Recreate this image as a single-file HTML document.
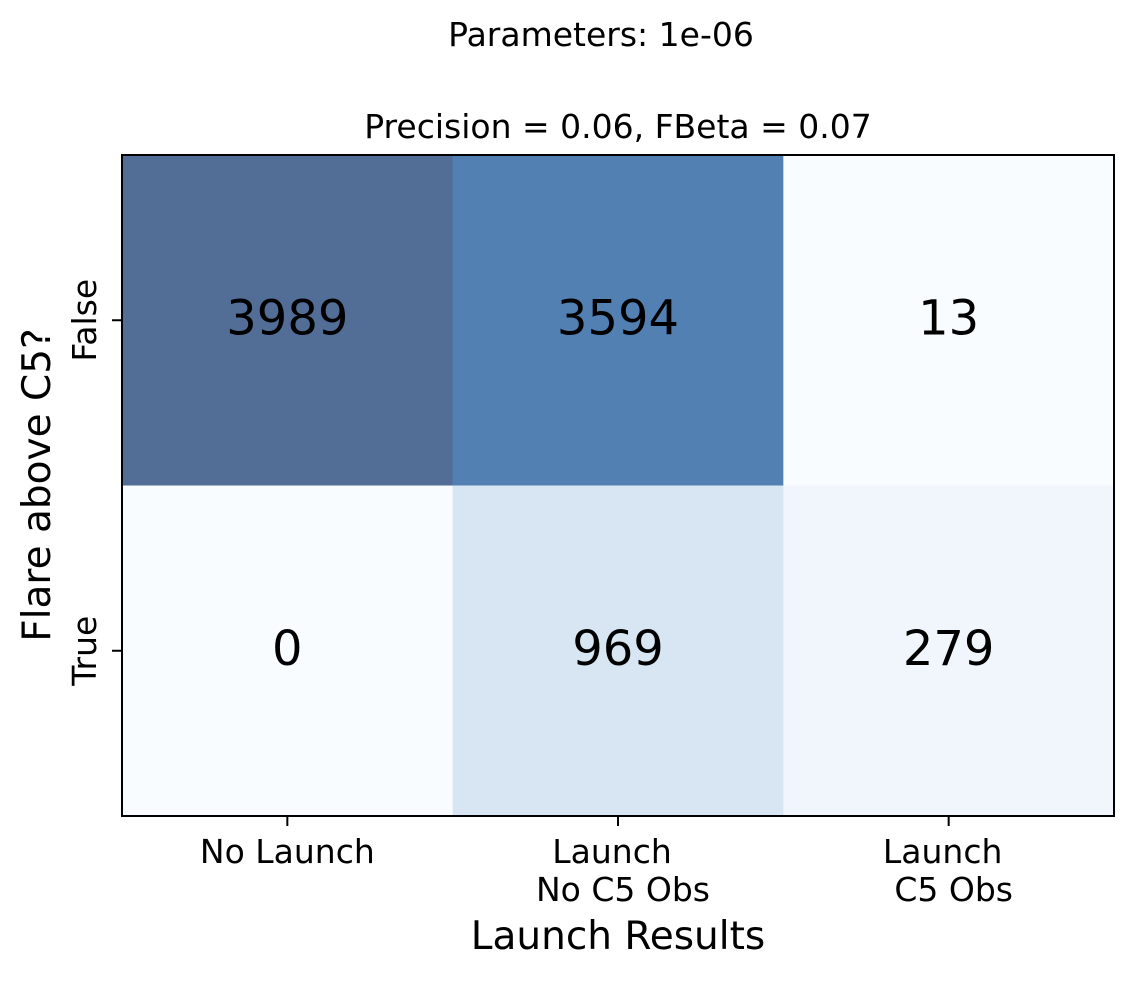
<!DOCTYPE html>
<html><head><meta charset="utf-8"><style>
body{margin:0;background:#fff;}
svg text{font-family:"DejaVu Sans","Liberation Sans",sans-serif;}
</style></head><body>
<svg id="chart" width="1133" height="976" viewBox="0 0 1133 976">
<text x="601" y="46" font-size="33" text-anchor="middle">Parameters: 1e-06</text>
<text x="618" y="138" font-size="33" text-anchor="middle">Precision = 0.06, FBeta = 0.07</text>
<g id="cells"></g>
<rect x="122" y="155" width="992" height="661" fill="none" stroke="#000" stroke-width="2"/>
<g id="ticks"></g>
<text x="618" y="949" font-size="39" text-anchor="middle">Launch Results</text>
<text transform="translate(50,485) rotate(-90)" font-size="39" text-anchor="middle">Flare above C5?</text>
</svg>
<script>
const xCategories=[["No Launch"],["Launch","No C5 Obs"],["Launch","C5 Obs"]];
const yCategories=["False","True"];
const valuesFalse=[3989,3594,13];
const valuesTrue=[0,969,279];
const rows=[valuesFalse,valuesTrue];
const L=122,T=155,W=992,H=661;
const cw=W/xCategories.length, ch=H/yCategories.length;
const xPos=i=>L+cw*(i+0.5), yPos=j=>T+ch*(j+0.5);
const stops=["#f7fbff","#deebf7","#c6dbef","#9ecae1","#6baed6","#4292c6","#2171b5","#08519c","#08306b"];
function hex(h){return [1,3,5].map(k=>parseInt(h.substr(k,2),16));}
function blues(t){t=Math.max(0,Math.min(1,t));const s=t*8,i=Math.min(7,Math.floor(s)),f=s-i;const a=hex(stops[i]),b=hex(stops[i+1]);
 return a.map((v,k)=>Math.round((v+(b[k]-v)*f)*0.7+255*0.3));}
const allV=rows.flat(),mn=Math.min(...allV),mx=Math.max(...allV);
const ns="http://www.w3.org/2000/svg";
const cells=document.getElementById('cells'),ticks=document.getElementById('ticks');
rows.forEach((r,j)=>r.forEach((v,i)=>{
 const c=blues((v-mn)/(mx-mn));
 const rect=document.createElementNS(ns,'rect');
 
 
 rect.setAttribute('x',L+cw*i);rect.setAttribute('y',T+ch*j);rect.setAttribute('width',cw+0.5);rect.setAttribute('height',ch+0.5);
 rect.setAttribute('fill','rgb('+c.join(',')+')');cells.appendChild(rect);
 const t=document.createElementNS(ns,'text');
 
 
 t.setAttribute('x',xPos(i));t.setAttribute('y',yPos(j)+14);t.setAttribute('font-size','48');t.setAttribute('text-anchor','middle');
 t.textContent=v;cells.appendChild(t);
}));
xCategories.forEach((lines,i)=>{
 const l=document.createElementNS(ns,'line');
 
 
 l.setAttribute('x1',xPos(i));l.setAttribute('x2',xPos(i));l.setAttribute('y1',T+H);l.setAttribute('y2',T+H+10);l.setAttribute('stroke','#000');l.setAttribute('stroke-width','2');ticks.appendChild(l);
 lines.forEach((s,k)=>{const t=document.createElementNS(ns,'text');
 
 
 const dx=lines.length>1?(k===0?-6:5):0;
 t.setAttribute('x',xPos(i)+dx);t.setAttribute('y',T+H+47+k*38);t.setAttribute('font-size','33');t.setAttribute('text-anchor','middle');t.textContent=s;ticks.appendChild(t);});
});
yCategories.forEach((s,j)=>{
 const l=document.createElementNS(ns,'line');
 
 
 l.setAttribute('x1',L-10);l.setAttribute('x2',L);l.setAttribute('y1',yPos(j));l.setAttribute('y2',yPos(j));l.setAttribute('stroke','#000');l.setAttribute('stroke-width','2');ticks.appendChild(l);
 const t=document.createElementNS(ns,'text');
 
 
 t.setAttribute('transform','translate(96,'+yPos(j)+') rotate(-90)');t.setAttribute('font-size','33');t.setAttribute('text-anchor','middle');t.textContent=s;ticks.appendChild(t);
});
</script>
</body></html>
